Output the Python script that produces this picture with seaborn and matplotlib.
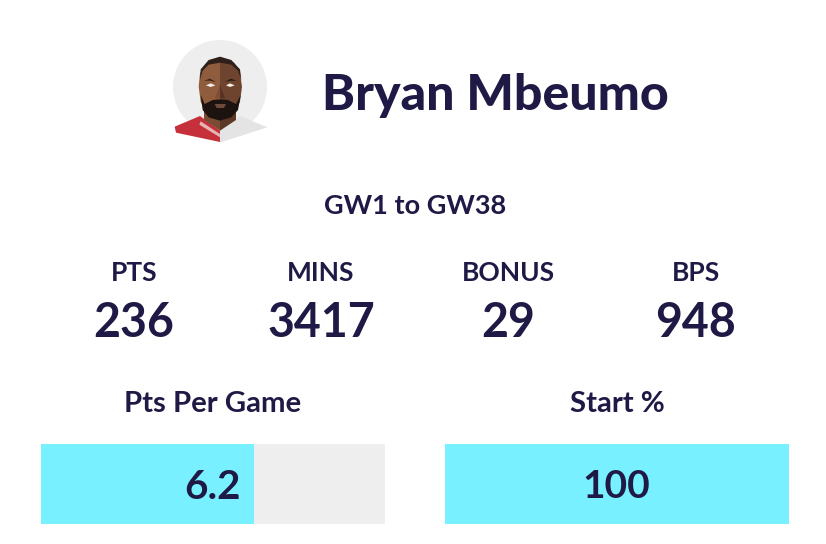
import matplotlib
matplotlib.use("Agg")
import matplotlib.pyplot as plt
from matplotlib.patches import Circle, Polygon
import pandas as pd
import seaborn as sns

player = "Bryan Mbeumo"
period = "GW1 to GW38"
stat_labels = ["PTS", "MINS", "BONUS", "BPS"]
stat_values = ["236", "3417", "29", "948"]
bar_labels = ["Pts Per Game", "Start %"]
bar_values = [6.2, 100]
bar_texts = ["6.2", "100"]
bar_limits = [10, 100]

NAVY = "#1f1a45"
CYAN = "#78f0ff"
GREY = "#eeeeee"
W, H = 826, 544

sns.set_theme(style="white")
plt.rcParams["font.family"] = ["Lato", "DejaVu Sans"]
fig = plt.figure(figsize=(W / 100, H / 100), dpi=100, facecolor="white")


def tx(x, y, s, size, weight="bold", ha="center"):
    fig.text(x / W, 1 - y / H, s, fontsize=size, fontweight=weight, color=NAVY,
             ha=ha, va="center_baseline")


# avatar (pixel space, y down)
av = fig.add_axes([0, 0, 1, 1])
av.set_xlim(0, W)
av.set_ylim(H, 0)
av.axis("off")
av.add_patch(Circle((220, 87), 47, fc="#eeeeee", ec="none"))


def poly(points, color):
    pts = [(160 + a / 3, 30 + b / 3) for a, b in points]
    av.add_patch(Polygon(pts, closed=True, fc=color, ec="none"))


# shirt
poly([(180, 302), (120, 258), (44, 290), (48, 308), (180, 336)], "#c5303a")
poly([(180, 302), (240, 258), (322, 292), (185, 336), (180, 336)], "#e4e4e4")
poly([(122, 274), (180, 312), (180, 322), (118, 284)], "#e6b4b4")
# neck and head
poly([(132, 240), (132, 270), (180, 302), (180, 240)], "#7a4c33")
poly([(180, 240), (180, 302), (228, 270), (228, 240)], "#5b3726")
poly([(120, 130), (116, 170), (122, 215), (140, 255), (180, 272), (180, 90), (140, 98)], "#8f5d3d")
poly([(180, 272), (222, 255), (240, 215), (246, 170), (240, 130), (222, 98), (180, 90)], "#6f442e")
# hair
poly([(120, 150), (122, 118), (146, 90), (180, 80), (214, 90), (240, 118), (244, 150),
      (234, 122), (214, 104), (180, 98), (146, 104), (128, 122)], "#2f1f1a")
# beard
poly([(122, 195), (134, 222), (158, 210), (180, 208), (204, 210), (228, 222), (242, 195),
      (234, 240), (214, 262), (180, 272), (146, 262), (128, 240)], "#1c1311")
poly([(164, 222), (198, 222), (192, 234), (170, 234)], "#6e4a3a")
# eyes, brows, nose
poly([(132, 152), (150, 146), (168, 156), (150, 152)], "#3a2418")
poly([(194, 156), (212, 146), (230, 152), (212, 152)], "#2a1a12")
poly([(138, 166), (152, 160), (166, 166), (152, 171)], "#f4efe9")
poly([(198, 166), (210, 160), (224, 166), (210, 171)], "#f4efe9")
poly([(180, 165), (180, 205), (164, 205), (168, 195)], "#7d4f35")
poly([(180, 165), (180, 205), (196, 205), (192, 195)], "#573422")

# texts
tx(495, 91, player, 36, "black")
tx(415, 204, period, 19.5)
for x, lab, val in zip([134, 321, 508, 696], stat_labels, stat_values):
    tx(x, 271, lab, 19)
    tx(x, 319, val, 33.5)

# bars
geometry = [(41, 344), (445, 344)]
ends = [241, 650]
sizes = [29, 28]
for (left, width), lab, val, txt, lim, end, sz in zip(geometry, bar_labels, bar_values, bar_texts, bar_limits, ends, sizes):
    ax = fig.add_axes([left / W, 1 - 524 / H, width / W, 80 / H])
    df = pd.DataFrame({"label": [lab], "value": [val]})
    sns.barplot(data=df, x="value", y="label", color=CYAN, saturation=1, width=1,
                linewidth=0, edgecolor="none", ax=ax)
    ax.set_xlim(0, lim)
    ax.set_ylim(0.5, -0.5)
    ax.set_axis_off()
    ax.add_patch(plt.Rectangle((0, 0), 1, 1, transform=ax.transAxes, fc=GREY, ec="none", zorder=0))
    tx(left + width / 2 + 0.5 if lim == 100 else left + width / 2 - 0, 402, lab, 21.2)
    tx(end, 484, txt, sz, ha="right")

fig.savefig("out.png", dpi=100)
